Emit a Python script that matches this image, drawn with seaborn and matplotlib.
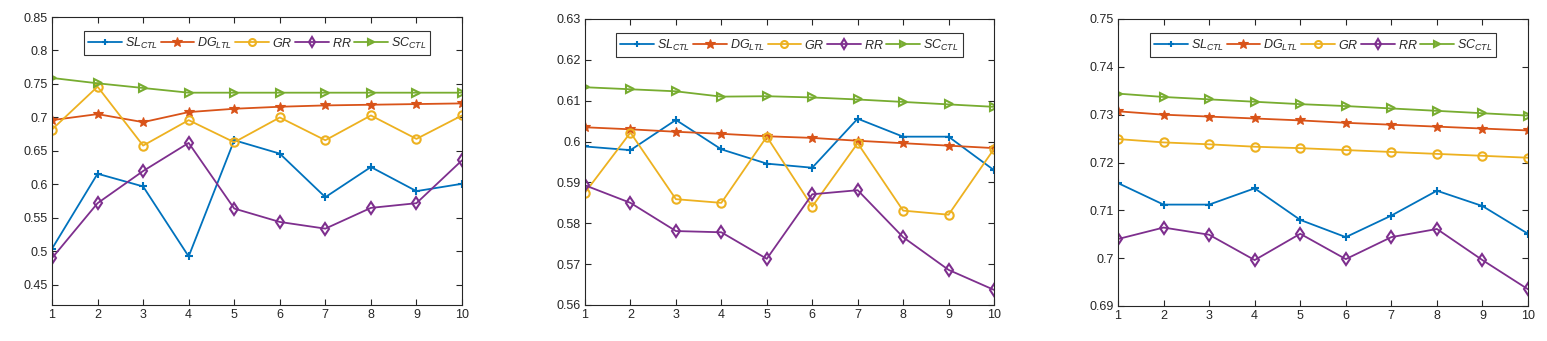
import matplotlib
matplotlib.use("Agg")
import matplotlib.pyplot as plt
import seaborn as sns

# x positions shared by all panels
steps = list(range(1, 11))

series_names = [r"$SL_{CTL}$", r"$DG_{LTL}$", r"$GR$", r"$RR$", r"$SC_{CTL}$"]

# Panel 1
p1_sl = [0.504, 0.616, 0.597, 0.4925, 0.666, 0.646, 0.581, 0.626, 0.590, 0.601]
p1_dg = [0.696, 0.705, 0.693, 0.708, 0.713, 0.716, 0.718, 0.719, 0.720, 0.721]
p1_gr = [0.682, 0.746, 0.658, 0.696, 0.663, 0.700, 0.666, 0.703, 0.668, 0.703]
p1_rr = [0.490, 0.572, 0.620, 0.662, 0.564, 0.544, 0.534, 0.565, 0.572, 0.636]
p1_sc = [0.759, 0.751, 0.744, 0.737, 0.737, 0.737, 0.737, 0.737, 0.737, 0.737]

# Panel 2
p2_sl = [0.5988, 0.5979, 0.6053, 0.5981, 0.5946, 0.5936, 0.6056, 0.6012, 0.6012, 0.5930]
p2_dg = [0.6035, 0.6030, 0.6024, 0.6019, 0.6013, 0.6009, 0.6002, 0.5996, 0.5990, 0.5984]
p2_gr = [0.5875, 0.6022, 0.5859, 0.5850, 0.6012, 0.5841, 0.5996, 0.5831, 0.5821, 0.5982]
p2_rr = [0.5893, 0.5850, 0.5781, 0.5778, 0.5713, 0.5871, 0.5881, 0.5766, 0.5686, 0.5637]
p2_sc = [0.6133, 0.6128, 0.6123, 0.6110, 0.6111, 0.6108, 0.6103, 0.6097, 0.6091, 0.6085]

# Panel 3
p3_sl = [0.7157, 0.7112, 0.7112, 0.7146, 0.7080, 0.7044, 0.7089, 0.7141, 0.7109, 0.7051]
p3_dg = [0.7307, 0.7300, 0.7296, 0.7292, 0.7288, 0.7283, 0.7279, 0.7275, 0.7271, 0.7267]
p3_gr = [0.7249, 0.7242, 0.7238, 0.7233, 0.7230, 0.7226, 0.7222, 0.7218, 0.7214, 0.7210]
p3_rr = [0.7040, 0.7064, 0.7049, 0.6996, 0.7051, 0.6998, 0.7044, 0.7061, 0.6996, 0.6935]
p3_sc = [0.7344, 0.7337, 0.7332, 0.7327, 0.7322, 0.7318, 0.7313, 0.7308, 0.7303, 0.7298]

p1_yticks = [0.45, 0.5, 0.55, 0.6, 0.65, 0.7, 0.75, 0.8, 0.85]
p2_yticks = [0.56, 0.57, 0.58, 0.59, 0.6, 0.61, 0.62, 0.63]
p3_yticks = [0.69, 0.7, 0.71, 0.72, 0.73, 0.74, 0.75]

colors = ["#0072BD", "#D95319", "#EDB120", "#7E2F8E", "#77AC30"]
markers = ["+", "*", "o", "d", ">"]

sns.set_style("ticks")
plt.rcParams["font.family"] = ["Liberation Sans", "DejaVu Sans"]
plt.rcParams["mathtext.fontset"] = "custom"
plt.rcParams["mathtext.it"] = "Liberation Sans:italic"
plt.rcParams["mathtext.rm"] = "Liberation Sans"
plt.rcParams["mathtext.default"] = "it"

W, H = 1547, 341
fig = plt.figure(figsize=(W / 100, H / 100), dpi=100)

panels = [
    dict(box=(52, 17, 462, 305), ylim=(0.42, 0.85), yticks=p1_yticks,
         data=[p1_sl, p1_dg, p1_gr, p1_rr, p1_sc]),
    dict(box=(585, 19, 994, 305), ylim=(0.56, 0.63), yticks=p2_yticks,
         data=[p2_sl, p2_dg, p2_gr, p2_rr, p2_sc]),
    dict(box=(1118, 19, 1528, 306), ylim=(0.69, 0.75), yticks=p3_yticks,
         data=[p3_sl, p3_dg, p3_gr, p3_rr, p3_sc]),
]

for p in panels:
    x0, y0, x1, y1 = p["box"]
    ax = fig.add_axes([x0 / W, 1 - y1 / H, (x1 - x0) / W, (y1 - y0) / H])
    for vals, name, c, m in zip(p["data"], series_names, colors, markers):
        filled = m in ("+", "*")
        sns.lineplot(x=steps, y=vals, ax=ax, color=c, marker=m, label=name,
                     linewidth=1.3, markersize=6 if m != "*" else 7.5,
                     markerfacecolor=c if filled else "none",
                     markeredgecolor=c, markeredgewidth=1.5 if m != "*" else 0.8)
    ax.set_xlim(1, 10)
    ax.set_ylim(*p["ylim"])
    ax.set_xticks(steps)
    ax.set_yticks(p["yticks"])
    ax.set_yticklabels([f"{v:g}" for v in p["yticks"]])
    ax.tick_params(direction="in", top=True, right=True, length=4, width=0.8,
                   labelsize=9, colors="#262626", pad=3)
    for s in ax.spines.values():
        s.set_linewidth(0.8)
        s.set_color("#262626")
    leg = ax.legend(loc="upper center", bbox_to_anchor=(0.5, 0.95), ncol=5,
                    frameon=True, fancybox=False, edgecolor="black",
                    fontsize=9, handlelength=2.7, handletextpad=0.25,
                    columnspacing=0.2, borderpad=0.35, borderaxespad=0)
    leg.get_frame().set_linewidth(0.8)
    for h, m in zip(leg.legend_handles, markers):
        h.set_markersize(7 if m == "*" else 5)

fig.savefig("out.png", dpi=100)
